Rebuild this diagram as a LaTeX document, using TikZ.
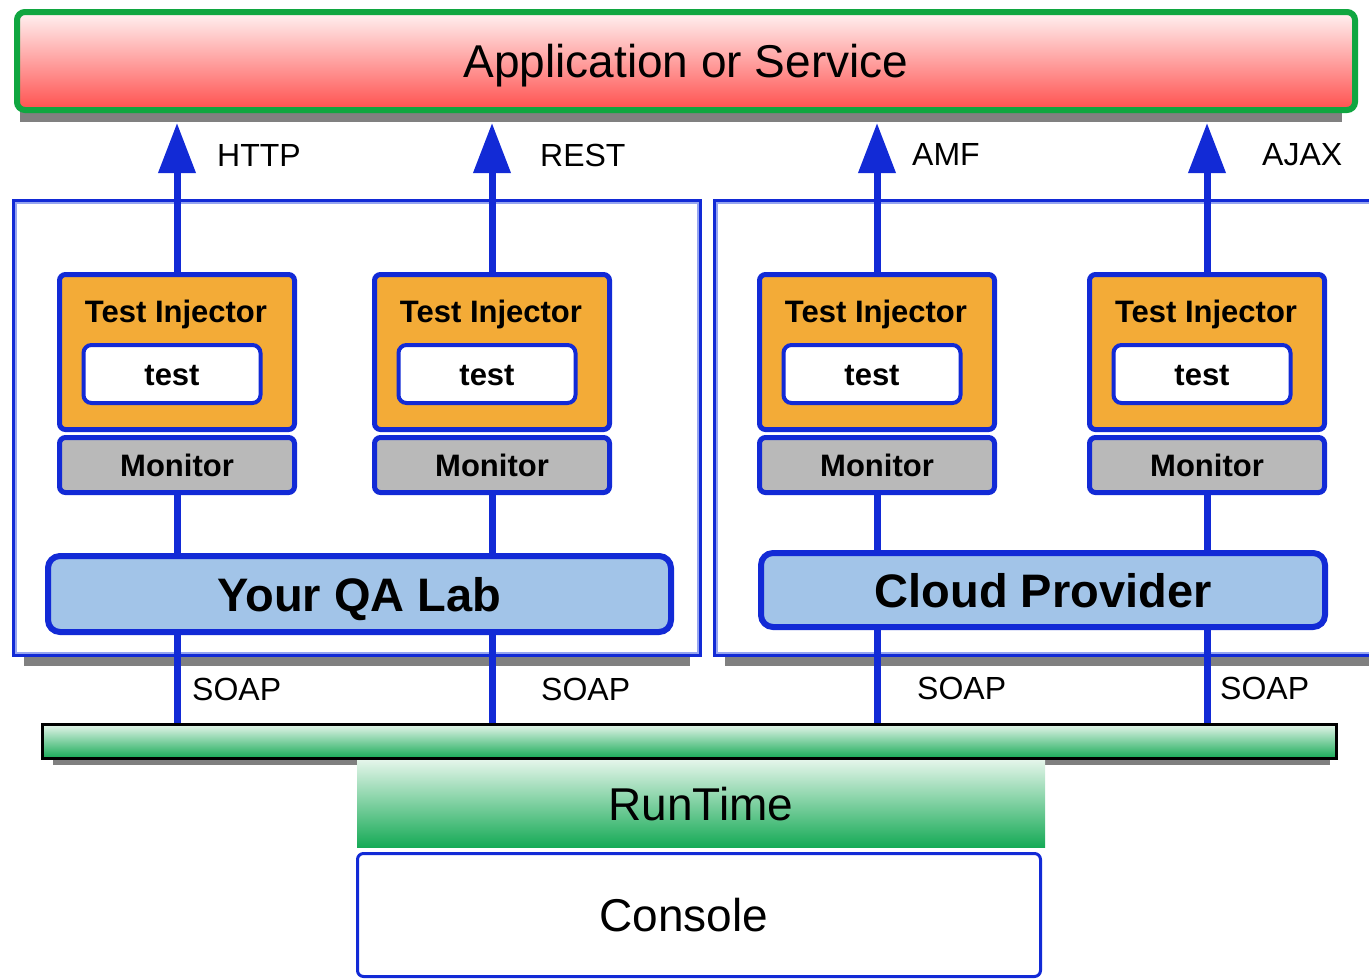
\documentclass[tikz,border=0pt]{standalone}
\usepackage{fontspec}
\setmainfont{Liberation Sans}
\usetikzlibrary{arrows.meta,backgrounds}
\definecolor{qblue}{RGB}{18,42,214}
\definecolor{qlight}{RGB}{150,165,240}
\definecolor{appgreen}{RGB}{16,166,64}
\definecolor{apptop}{RGB}{255,242,242}
\definecolor{appbot}{RGB}{255,80,78}
\definecolor{injorange}{RGB}{243,171,55}
\definecolor{mongray}{RGB}{185,185,185}
\definecolor{labblue}{RGB}{162,196,232}
\definecolor{bustop}{RGB}{228,245,234}
\definecolor{busbot}{RGB}{22,170,86}
\definecolor{shadowgray}{RGB}{128,128,128}
\begin{document}
\begin{tikzpicture}[x=1pt,y=-1pt,
  appbox/.style={draw=appgreen, line width=6pt, rounded corners=8pt,
    top color=apptop, bottom color=appbot, inner sep=0pt,
    minimum width=1338pt, minimum height=98pt,
    font=\fontsize{46}{50}\selectfont, text height=33pt, text depth=0pt},
  container/.style={draw=qblue, line width=4pt, fill=white, inner sep=0pt,
    minimum width=686pt, minimum height=454pt},
  innerline/.style={draw=qlight, line width=1.5pt},
  shadowfill/.style={fill=shadowgray},
  inj/.style={draw=qblue, line width=5pt, fill=injorange, rounded corners=6pt,
    inner sep=0pt, minimum width=235pt, minimum height=155pt},
  injtitle/.style={inner sep=0pt, font=\bfseries\fontsize{31}{34}\selectfont,
    text height=22pt, text depth=0pt},
  mon/.style={draw=qblue, line width=5pt, fill=mongray, rounded corners=6pt,
    inner sep=0pt, minimum width=235pt, minimum height=55pt,
    font=\bfseries\fontsize{31}{34}\selectfont, text height=22pt, text depth=0pt},
  testbox/.style={draw=qblue, line width=4pt, fill=white, rounded corners=8pt,
    inner sep=0pt, minimum width=177pt, minimum height=58pt,
    font=\bfseries\fontsize{31}{34}\selectfont, text height=22pt, text depth=0pt},
  labbox/.style={draw=qblue, line width=6pt, fill=labblue, rounded corners=12pt,
    inner sep=0pt, font=\bfseries\fontsize{47}{50}\selectfont,
    text height=34pt, text depth=0pt},
  proto/.style={anchor=base west, inner sep=0pt, font=\fontsize{32}{34}\selectfont},
  busbox/.style={draw=black, line width=3pt, top color=bustop, bottom color=busbot,
    inner sep=0pt, minimum width=1294pt, minimum height=34pt},
  runbox/.style={top color=bustop, bottom color=busbot, inner sep=0pt,
    minimum width=688pt, minimum height=87pt,
    font=\fontsize{46}{50}\selectfont, text height=33pt, text depth=0pt},
  consolebox/.style={draw=qblue, line width=3pt, fill=white, rounded corners=6pt,
    inner sep=0pt, minimum width=683pt, minimum height=123pt},
  consoletext/.style={inner sep=0pt, font=\fontsize{46}{50}\selectfont,
    text height=33pt, text depth=0pt},
  link/.style={draw=qblue, line width=7pt},
  flow/.style={link, -{Triangle[width=36pt,length=50pt]}}
]
\useasboundingbox (0,0) rectangle (1369,980);
\clip (0,0) rectangle (1369,980);

% top application bar
\node[appbox] (app) at (686,61) {Application or Service};
\coordinate (apptip) at ([yshift=-10pt]app.south);

% containers
\node[container] (qacont) at (357,428) {};
\node[container] (cloudcont) at (1058,428) {};
\draw[innerline] ([shift={(4pt,-4pt)}]qacont.north west) rectangle ([shift={(-4pt,4pt)}]qacont.south east);
\draw[innerline] ([shift={(4pt,-4pt)}]cloudcont.north west) rectangle ([shift={(-4pt,4pt)}]cloudcont.south east);

% lab boxes
\node[labbox, minimum width=623pt, minimum height=76pt] (qa) at (359.5,594) {Your QA Lab};
\node[labbox, minimum width=564pt, minimum height=74pt] (cloud) at (1043,590) {Cloud Provider};

% bus, runtime, console
\node[busbox] (bus) at (689.5,741.5) {};
\node[runbox] (runtime) at (701,803.5) {RunTime};
\node[consolebox, label={[consoletext, xshift=-15pt]center:Console}] (console) at (699,915) {};

% shadows
\begin{scope}[on background layer]
  \fill[shadowfill] ([xshift=6pt,yshift=6pt]app.south west) rectangle ([xshift=-16pt,yshift=-9pt]app.south east);
  \fill[shadowfill] ([xshift=12pt,yshift=4pt]qacont.south west) rectangle ([xshift=-12pt,yshift=-9pt]qacont.south east);
  \fill[shadowfill] ([xshift=12pt,yshift=4pt]cloudcont.south west) rectangle ([xshift=-12pt,yshift=-9pt]cloudcont.south east);
  \fill[shadowfill] ([xshift=12pt,yshift=4pt]bus.south west) rectangle ([xshift=-8pt,yshift=-5pt]bus.south east);
\end{scope}

% injectors
\foreach \i/\x in {1/177, 2/492, 3/877, 4/1207}{
  \node[inj] (ti\i) at (\x,352) {};
  \node[injtitle] (tt\i) at (\x-1,311) {Test Injector};
  \node[testbox] (tb\i) at (\x-5,374) {test};
  \node[mon] (mon\i) at (\x,465) {Monitor};
}

% connectors to application
\foreach \i in {1,2,3,4}{
  \draw[flow] (ti\i.north) -- (ti\i.north |- apptip);
}
% monitors to labs, labs to bus
\foreach \i/\l in {1/qa, 2/qa, 3/cloud, 4/cloud}{
  \draw[link] (mon\i.south) -- (mon\i.south |- \l.north);
  \draw[link] (mon\i.south |- \l.south) -- (mon\i.south |- bus.north);
}

% protocol labels
\node[proto] (pHTTP) at (217,166) {HTTP};
\node[proto] (pREST) at (540,166) {REST};
\node[proto] (pAMF) at (912,165) {AMF};
\node[proto] (pAJAX) at (1262,165) {AJAX};
\node[proto] (s1) at (192,700) {SOAP};
\node[proto] (s2) at (541,700) {SOAP};
\node[proto] (s3) at (917,699) {SOAP};
\node[proto] (s4) at (1220,699) {SOAP};
\end{tikzpicture}
\end{document}
